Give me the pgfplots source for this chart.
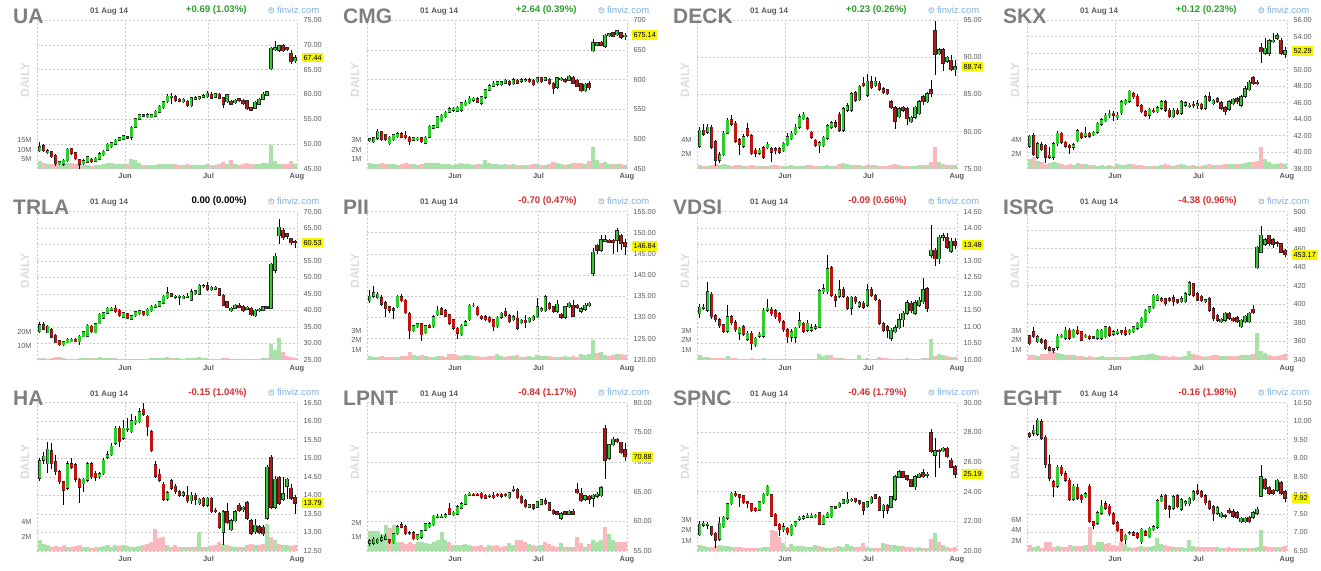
\documentclass[border=0pt]{standalone}
\usepackage{pgfplots}
\pgfplotsset{compat=1.18}
\usepackage{pgfplotstable}
\usepackage{fontspec}
\setmainfont{Liberation Sans}
\definecolor{upg}{HTML}{2ECC2E}
\definecolor{dnr}{HTML}{C01414}
\definecolor{volg}{HTML}{A9E2A9}
\definecolor{volr}{HTML}{F8B8BC}
\definecolor{gridc}{HTML}{C8C8C8}
\definecolor{tickc}{HTML}{5A5A5A}
\definecolor{titc}{HTML}{7F7F7F}
\definecolor{datec}{HTML}{5A5A5A}
\definecolor{chgup}{HTML}{2E9E2E}
\definecolor{chgdn}{HTML}{D22F2F}
\definecolor{chgnil}{HTML}{000000}
\definecolor{finc}{HTML}{7FB0DE}
\definecolor{dailyc}{HTML}{DCDCDC}
\definecolor{lastyel}{HTML}{F5F500}
\newcommand\fTitle{\fontsize{21}{21}\selectfont\bfseries}
\newcommand\fDate{\fontsize{8}{8}\selectfont\bfseries}
\newcommand\fChg{\fontsize{9.6}{10}\selectfont\bfseries}
\newcommand\fFin{\fontsize{9.5}{10}\selectfont}
\newcommand\fDaily{\fontsize{12}{12}\selectfont\bfseries}
\newcommand\fTick{\fontsize{7.3}{8}\selectfont}
\newcommand\fMonth{\fontsize{7.5}{8}\selectfont\bfseries}

\pgfplotsset{
  fbase/.style={scale only axis, width=259.7pt, height=148.3pt, anchor=south west,
    xmin=-0.6, xmax=64.5, axis line style={draw=none},
    major tick length=0pt, minor tick length=0pt,
    /pgf/number format/assume math mode=true},
  seg/.style={draw=#1, no markers, unbounded coords=jump, forget plot},
}
\pgfkeys{/panel/.is family}
\pgfkeys{/panel,
  col/.store in=\pcol, row/.store in=\prow, name/.store in=\pname,
  chg/.store in=\pchg, chgcol/.store in=\pchgcol,
  ymin/.store in=\pymin, ymax/.store in=\pymax, ystep/.store in=\pystep,
  prec/.store in=\pprec, last/.store in=\plast,
  vmax/.store in=\pvmax, vticks/.store in=\pvticks}

% build one path per series from the OHLCV table
\newcommand\buildsegs[2]{%
  \gdef\gv{}\gdef\rv{}\gdef\wk{}\gdef\bb{}\gdef\bg{}\gdef\br{}%
  \pgfplotstablegetrowsof{#1}%
  \pgfmathtruncatemacro\lastrow{\pgfplotsretval-1}%
  \foreach \i in {0,...,\lastrow}{%
    \pgfplotstablegetelem{\i}{o}\of#1\let\vO\pgfplotsretval
    \pgfplotstablegetelem{\i}{h}\of#1\let\vH\pgfplotsretval
    \pgfplotstablegetelem{\i}{l}\of#1\let\vL\pgfplotsretval
    \pgfplotstablegetelem{\i}{c}\of#1\let\vC\pgfplotsretval
    \pgfplotstablegetelem{\i}{v}\of#1\let\vV\pgfplotsretval
    \pgfmathsetmacro\vlo{min(\vO,\vC)}%
    \pgfmathsetmacro\vhi{max(\vO,\vC)}%
    \pgfmathsetmacro\vblo{\vlo-#2}%
    \pgfmathsetmacro\vbhi{\vhi+#2}%
    \pgfmathtruncatemacro\vup{\vC>=\vO}%
    \xdef\wk{\wk(\i,\vL)(\i,\vH)(\i,nan)}%
    \xdef\bb{\bb(\i,\vblo)(\i,\vbhi)(\i,nan)}%
    \ifnum\vup=1
      \xdef\bg{\bg(\i,\vlo)(\i,\vhi)(\i,nan)}%
      \xdef\gv{\gv(\i,0)(\i,\vV)(\i,nan)}%
    \else
      \xdef\br{\br(\i,\vlo)(\i,\vhi)(\i,nan)}%
      \xdef\rv{\rv(\i,0)(\i,\vV)(\i,nan)}%
    \fi
  }%
}
\newcommand\segplot[2]{\expandafter\segplotX\expandafter{#2}{#1}}
\newcommand\segplotX[2]{\addplot[#2] coordinates {#1};}

\newcommand\Panel[2]{%
  \pgfkeys{/panel/.cd,#1}%
  \pgfmathsetmacro\PX{330*\pcol}%
  \pgfmathsetmacro\PY{570-191.2*\prow}%
  \pgfmathsetmacro\AX{\PX+37.3}%
  \pgfmathsetmacro\AY{\PY-168.6}%
  \pgfmathsetmacro\pdelta{(\pymax-\pymin)/148.3*0.5}%
  \buildsegs{#2}{\pdelta}%
  \begin{axis}[fbase, at={(\AX pt,\AY pt)},
     ymin=0, ymax=\pvmax, xtick=\empty, ytick=\pvticks, ytick pos=left,
     yticklabel={\pgfmathprintnumber{\tick}M},
     yticklabel style={font=\fTick, text=tickc, anchor=east, inner sep=1pt, xshift=-4.6pt}]
    \segplot{seg=volg, line width=4.0pt}{\gv}
    \segplot{seg=volr, line width=4.0pt}{\rv}
  \end{axis}
  \begin{axis}[fbase, at={(\AX pt,\AY pt)},
     ymin=\pymin, ymax=\pymax, ytick distance=\pystep, ytick pos=right,
     yticklabel pos=right,
     yticklabel={\pgfmathprintnumber[fixed,fixed zerofill,precision=\pprec]{\tick}},
     yticklabel style={font=\fTick, text=tickc, anchor=west, inner xsep=1.5pt, inner ysep=2.2pt, xshift=4.8pt},
     xtick={-0.6,21.4,42.3,64.5}, xticklabels={,Jun,Jul,Aug},
     xticklabel style={font=\fMonth, text=tickc, anchor=base, yshift=-10.4pt},
     grid=major, major grid style={gridc, line width=0.6pt, dash pattern=on 2pt off 2pt},
     extra y ticks=\plast, extra y tick labels={\plast},
     extra y tick style={grid=none, yticklabel style={fill=lastyel, text=black}}]
    \segplot{seg=black, line width=0.6pt}{\wk}
    \segplot{seg=black!85, line width=3.4pt}{\bb}
    \segplot{seg=upg, line width=2.3pt}{\bg}
    \segplot{seg=dnr, line width=2.3pt}{\br}
  \end{axis}
  \begin{scope}[shift={(\PX pt,\PY pt)}, x=1pt, y=1pt]
    \node[anchor=base west, font=\fTitle, text=titc, inner sep=0] at (13,-23.3) {\pname};
    \node[anchor=base west, font=\fDate, text=datec, inner sep=0] at (90,-13.8) {01 Aug 14};
    \node[anchor=base east, font=\fChg, text=\pchgcol, inner sep=0] at (246.7,-12.8) {\pchg};
    \draw[finc, line width=0.6pt] (271.3,-10.2) circle (2.6);
    \node[font=\fontsize{4.5}{5}\selectfont\bfseries, text=finc, inner sep=0] at (271.3,-10.2) {s};
    \node[anchor=base west, font=\fFin, text=finc, inner sep=0] at (276.8,-13.6) {finviz.com};
    \node[rotate=90, font=\fDaily, text=dailyc, inner sep=0] at (25,-80) {DAILY};
  \end{scope}
}

\pgfplotstableread{
o h l c v
48.6 50.3 48.4 49.4 4.2
49.6 49.9 48.4 48.6 2.8
48.2 48.9 48.0 48.6 2.5
48.4 48.6 47.2 47.4 2.3
47.7 47.9 45.6 46.0 3.0
46.0 46.6 45.8 46.4 2.6
45.9 47.0 45.6 46.7 2.4
46.6 49.1 46.4 48.9 3.0
49.0 49.1 47.8 48.1 2.8
48.2 48.4 46.7 47.0 2.4
46.8 47.0 45.0 45.9 2.6
46.0 46.9 45.7 46.6 2.0
46.3 47.6 46.1 47.4 1.8
46.9 47.1 46.2 46.4 1.6
46.5 47.3 46.3 47.1 1.8
46.9 48.3 46.8 48.0 2.0
47.8 48.7 47.6 48.5 2.6
48.7 50.1 48.5 49.9 3.2
49.4 50.4 49.2 50.2 2.8
49.9 50.9 49.7 50.7 2.4
50.7 51.4 50.5 51.2 2.2
50.9 51.8 50.7 51.6 2.6
51.4 51.6 50.9 51.1 2.2
51.3 53.6 50.8 53.4 5.0
53.4 55.3 53.2 55.1 4.6
55.0 56.1 54.8 55.9 3.0
55.9 56.1 55.4 55.6 2.0
55.5 56.3 55.3 55.9 1.8
55.3 56.0 55.2 55.9 1.8
55.6 56.8 55.5 56.6 2.0
56.4 57.8 56.2 57.6 2.2
57.3 58.7 57.1 58.5 2.4
58.5 60.0 58.2 59.6 2.6
59.4 60.3 58.0 59.6 2.4
59.5 59.8 58.5 58.7 2.2
59.0 59.2 58.4 58.6 2.0
58.5 59.3 58.3 59.0 2.0
58.6 58.8 57.5 57.7 2.2
57.7 59.5 57.5 59.3 2.0
59.0 59.6 58.8 59.3 1.8
59.1 59.7 58.9 59.5 1.9
59.4 60.0 59.2 59.7 2.0
59.5 60.6 59.3 60.2 2.4
60.0 60.4 59.0 59.2 2.0
59.4 60.3 59.2 60.1 2.1
60.0 60.3 59.0 59.2 2.2
59.3 59.5 57.2 58.0 3.6
58.5 60.1 58.3 59.9 2.6
58.6 58.8 57.8 58.0 4.4
58.3 59.0 58.1 58.8 2.4
59.1 59.3 58.5 58.7 2.0
58.8 59.0 57.9 58.1 2.6
58.7 58.9 56.9 57.1 2.8
57.3 57.5 56.6 56.8 2.4
57.2 58.6 57.0 58.4 2.2
58.0 59.2 57.8 59.0 2.6
59.0 60.4 58.8 60.0 2.8
59.8 60.7 59.6 60.5 3.2
65.2 69.6 65.0 69.3 12.5
69.0 70.8 68.8 69.4 4.0
68.9 70.1 68.6 69.9 2.6
70.0 70.2 68.5 68.8 2.4
69.4 69.6 68.7 69.0 2.2
68.3 68.9 66.2 66.6 3.8
66.8 67.9 66.4 67.44 2.6
}\dUA

\pgfplotstableread{
o h l c v
497 502 494 500 0.55
495 504 493 502 0.45
501 517 499 513 0.5
512 514 497 499 0.6
507 509 497 499 0.5
492 505 490 503 0.45
499 509 497 507 0.5
504 511 502 509 0.4
509 511 501 503 0.45
506 513 500 502 0.55
503 505 490 495 0.5
498 504 496 502 0.45
499 503 497 501 0.4
502 504 493 495 0.5
493 505 491 503 0.55
503 523 501 521 0.6
518 524 516 522 0.55
520 539 518 537 0.6
531 542 528 540 0.5
537 547 535 545 0.45
545 553 543 551 0.45
548 554 546 552 0.4
547 555 545 553 0.5
548 563 546 561 0.55
558 565 556 562 0.45
561 572 559 569 0.5
565 571 563 569 0.4
568 570 560 562 0.45
560 573 558 571 0.5
570 585 568 583 0.9
582 592 580 590 0.6
589 597 587 594 0.5
592 598 590 596 0.45
591 598 589 596 0.4
594 601 592 599 0.45
597 599 590 592 0.4
593 603 591 600 0.45
599 601 592 594 0.4
597 602 595 600 0.35
598 602 596 600 0.35
600 602 594 596 0.4
599 601 589 591 0.45
596 605 594 603 0.45
603 605 594 596 0.4
599 605 597 603 0.35
601 603 591 593 0.45
594 596 576 585 0.65
587 605 585 603 0.6
600 604 598 602 0.45
600 602 594 596 0.4
599 608 597 606 0.45
604 606 592 594 0.55
599 601 587 589 0.6
593 595 579 581 0.55
581 594 579 592 0.5
593 597 582 586 0.8
649 668 647 662 2.3
658 664 656 662 0.9
663 665 656 658 0.6
656 677 654 675 0.7
674 679 672 677 0.5
679 681 671 673 0.45
676 683 674 682 0.5
679 681 669 671 0.45
672 678 667 675.14 0.4
}\dCMG

\pgfplotstableread{
o h l c v
78.0 80.6 77.8 80.2 0.5
80.2 81.0 79.4 79.6 0.4
79.9 81.0 79.7 80.6 0.4
80.6 80.9 77.7 77.9 0.5
78.6 78.8 75.4 76.1 0.6
76.1 77.3 75.8 76.9 0.55
76.9 80.1 76.7 79.8 0.7
79.8 81.8 79.6 81.5 0.5
81.6 82.2 80.8 81.0 0.4
81.1 81.4 78.5 78.7 0.45
78.9 79.1 76.8 78.3 0.5
78.0 79.6 77.8 79.3 0.4
80.4 81.1 79.3 79.5 0.35
79.4 79.6 76.8 77.0 0.45
77.5 77.8 76.5 77.1 0.35
77.1 77.8 76.9 77.5 0.3
77.8 78.0 76.3 76.5 0.4
77.8 78.6 77.6 78.3 0.4
77.7 77.9 75.9 77.2 0.45
77.7 77.9 77.0 77.4 0.5
77.7 77.9 77.0 77.2 0.4
77.4 78.6 77.2 78.4 0.35
78.2 79.8 78.0 79.3 0.4
79.0 80.1 78.8 79.8 0.45
79.7 81.0 79.5 80.6 0.4
80.6 82.3 80.4 82.0 0.4
81.7 82.7 81.5 82.3 0.35
81.7 81.9 80.2 80.4 0.45
79.9 80.1 79.0 79.2 0.5
78.8 79.0 77.9 78.1 0.4
78.1 78.7 77.1 78.5 0.35
78.1 79.4 77.9 79.2 0.4
79.1 81.0 78.9 80.8 0.45
80.6 81.4 80.4 81.2 0.35
81.2 81.5 80.5 80.7 0.4
82.3 82.6 80.0 80.2 0.7
80.2 83.3 80.0 83.1 0.75
82.9 83.8 82.7 83.5 0.6
82.9 85.3 82.7 85.1 0.5
85.2 85.4 84.0 84.2 0.45
84.3 86.3 84.1 86.1 0.55
86.5 87.3 86.0 86.2 0.4
84.9 87.7 84.7 86.8 0.55
86.7 87.5 85.7 85.9 0.5
86.2 87.4 86.0 86.8 0.45
86.5 86.8 85.5 85.7 0.35
85.8 86.0 85.1 85.3 0.3
85.6 85.8 84.9 85.1 0.35
84.0 84.2 83.0 83.2 0.5
83.2 83.4 80.4 81.4 0.6
82.0 83.3 81.8 83.1 0.45
83.3 83.5 82.7 82.9 0.4
83.1 83.3 80.9 81.7 0.4
81.3 82.1 81.1 81.9 0.35
81.9 83.5 81.7 83.3 0.4
82.4 84.3 82.2 84.0 0.45
84.7 84.9 83.6 84.0 0.5
84.0 85.3 83.8 85.1 0.5
85.6 87.0 84.6 85.1 0.9
93.6 94.9 87.6 90.4 3.1
90.5 91.2 90.3 91.0 0.9
91.0 91.2 88.2 89.2 0.6
89.5 90.2 89.3 90.0 0.45
89.6 90.3 88.1 88.3 0.5
88.3 89.7 87.5 88.74 0.45
}\dDECK

\pgfplotstableread{
o h l c v
40.7 42.1 40.5 41.9 1.3
42.0 42.3 39.5 39.7 1.6
39.4 41.2 39.2 41.0 1.0
40.9 41.2 40.1 40.3 0.9
40.8 41.0 38.7 39.4 0.7
39.4 40.6 39.2 39.6 0.8
39.4 41.2 39.1 41.0 0.9
41.0 42.6 40.8 42.3 0.8
42.3 42.5 41.0 41.2 0.6
41.2 41.4 40.5 40.7 0.5
40.8 41.0 39.8 40.6 0.6
40.6 41.1 40.2 40.9 0.5
41.4 42.8 41.2 42.6 0.8
42.3 42.5 41.6 41.8 0.7
41.9 43.0 41.7 42.3 0.6
42.3 42.5 41.7 41.9 0.5
42.1 42.6 41.9 42.4 0.5
42.4 43.7 42.2 43.5 0.4
43.4 44.1 43.2 43.9 0.5
43.8 44.7 43.6 44.5 0.4
44.4 45.1 44.2 44.7 0.5
44.7 45.0 43.8 44.5 0.4
44.2 44.9 43.9 44.5 0.6
44.8 46.3 44.5 46.1 0.5
45.9 46.5 45.7 46.3 0.5
46.2 47.6 46.0 47.4 0.7
47.1 47.3 46.5 46.7 0.6
46.8 47.0 45.5 45.7 0.5
45.6 45.8 44.7 44.9 0.5
44.9 45.1 44.3 44.5 0.4
44.5 45.4 44.0 45.2 0.4
45.1 45.3 44.7 44.9 0.4
44.9 45.6 44.7 45.4 0.4
45.3 46.3 45.1 46.1 0.5
46.1 46.3 44.9 45.1 0.6
45.1 45.3 44.1 44.3 0.45
44.3 45.3 44.1 45.1 0.4
45.1 45.3 44.5 44.7 0.45
44.7 46.3 44.5 46.1 0.6
45.7 46.2 45.5 46.0 0.5
45.5 46.0 45.3 45.7 0.4
45.8 46.2 45.4 45.6 0.45
45.6 46.3 45.2 45.9 0.4
45.8 46.0 45.1 45.3 0.4
45.3 46.9 45.1 46.7 0.5
46.7 47.3 46.1 46.3 0.6
45.9 46.5 45.7 46.3 0.5
46.5 46.7 46.0 46.2 0.5
46.0 46.2 45.1 45.3 0.55
45.4 45.6 44.5 44.9 0.6
45.2 46.3 45.0 46.1 0.6
45.9 46.6 45.7 46.4 0.7
46.5 46.7 45.9 46.1 0.6
45.7 46.9 45.5 46.7 0.7
46.8 48.0 46.6 47.7 0.8
47.6 48.8 47.4 48.5 0.9
49.0 49.2 48.1 48.3 0.9
48.5 48.7 48.1 48.3 1.0
52.7 53.2 50.8 52.2 3.1
52.0 53.8 51.8 52.6 1.3
52.0 53.7 51.7 53.5 0.9
53.4 54.4 53.2 53.6 0.7
53.8 54.5 53.6 54.1 0.6
53.6 53.8 51.8 52.0 0.8
51.9 52.7 51.4 52.29 0.6
}\dSKX

\pgfplotstableread{
o h l c v
33.5 36.5 33.2 35.6 1.5
35.6 36.6 34.0 34.3 1.2
33.2 35.5 33.0 35.2 0.8
34.3 34.6 31.6 31.8 1.2
32.5 32.8 30.0 30.2 2.0
30.8 31.1 29.3 29.5 1.8
29.5 30.8 29.3 30.5 1.0
30.2 31.5 30.0 31.2 0.8
30.5 31.6 30.3 31.2 0.7
31.2 31.5 30.3 30.5 0.6
30.5 32.5 29.5 32.2 1.0
32.0 33.8 31.8 33.5 1.2
32.2 35.8 32.0 35.5 1.5
35.2 35.5 33.2 33.5 1.2
33.2 36.3 33.0 36.0 1.6
36.0 39.3 35.8 38.8 1.8
37.6 39.6 37.3 39.3 1.5
39.1 40.9 38.8 40.6 1.4
40.1 40.9 39.9 40.6 1.2
40.6 41.5 39.3 39.6 1.0
40.1 40.4 38.0 38.3 0.9
37.9 39.6 37.6 39.3 0.8
38.9 39.2 37.3 37.6 0.7
37.3 38.6 37.0 38.3 0.6
38.3 39.9 38.0 39.6 0.8
38.9 40.2 38.6 39.9 0.9
39.6 39.9 38.3 38.6 0.7
38.6 40.6 38.3 40.3 0.9
39.9 41.6 39.6 41.3 1.0
40.9 41.9 40.6 41.6 1.0
41.3 42.9 41.0 42.6 1.2
42.1 44.6 41.8 44.3 1.4
43.9 47.0 43.6 45.3 2.0
45.1 45.4 44.0 44.3 1.2
44.0 44.6 43.5 44.3 1.0
44.0 44.6 41.5 44.3 1.2
43.6 44.6 43.3 44.3 0.9
44.0 45.4 43.7 44.3 1.0
43.1 46.5 42.8 45.6 1.5
45.1 46.2 44.8 45.9 1.2
44.9 47.9 44.6 47.6 2.0
47.2 48.0 46.9 47.4 1.2
47.4 48.5 45.9 46.2 1.0
46.2 47.3 45.9 47.0 0.8
46.4 47.5 46.1 47.0 0.7
46.6 46.9 44.3 44.6 0.9
44.6 44.9 41.3 41.6 1.2
42.6 42.9 40.6 40.9 1.0
39.9 40.9 39.6 40.6 0.7
40.6 41.9 40.3 41.6 0.7
41.6 42.2 40.6 40.9 0.6
41.3 41.6 39.6 39.9 0.8
40.3 41.2 40.0 40.9 0.7
40.6 40.9 38.3 38.6 0.8
38.3 40.4 38.0 40.1 0.8
39.9 40.6 39.6 40.3 0.7
40.1 41.4 39.9 41.1 1.0
41.1 41.4 40.3 40.6 1.2
40.6 54.5 40.3 54.0 11.5
52.2 57.5 51.4 56.4 7.0
62.7 67.6 60.2 65.2 15.5
64.3 65.0 61.5 62.0 5.5
63.3 63.6 61.8 62.5 3.0
61.7 62.0 59.9 60.53 2.0
60.8 61.5 58.8 60.53 1.5
}\dTRLA

\pgfplotstableread{
o h l c v
133.9 136.5 133.5 135.0 0.35
135.0 137.3 134.7 135.8 0.3
134.7 136.0 134.3 135.5 0.3
134.7 135.2 132.8 133.1 0.35
133.5 133.8 130.0 132.1 0.3
132.5 132.8 131.0 131.7 0.25
132.1 132.4 129.7 131.7 0.3
132.5 135.3 132.2 135.0 0.3
134.9 135.5 133.6 133.9 0.35
134.1 134.4 130.8 131.1 0.4
131.0 131.3 125.0 126.9 0.8
126.9 128.3 126.6 128.0 0.45
127.8 128.8 127.5 128.5 0.35
128.5 128.8 124.5 125.9 0.5
126.4 128.3 126.1 128.0 0.35
128.2 128.5 127.4 127.7 0.3
127.8 130.5 127.5 130.2 0.3
130.6 132.7 130.3 131.7 0.4
132.1 132.4 130.5 130.8 0.35
131.6 131.9 130.0 130.3 0.3
130.6 130.9 128.3 128.6 0.6
129.4 129.7 127.1 127.4 0.6
127.4 127.7 125.0 126.3 0.5
125.9 128.5 125.6 128.2 0.4
128.2 129.3 127.9 129.0 0.45
129.5 133.2 129.2 132.9 0.5
132.7 133.5 132.4 132.9 0.35
132.4 132.7 130.3 130.6 0.4
130.3 130.6 129.5 129.8 0.3
130.2 130.5 129.1 129.4 0.3
130.0 130.3 128.7 129.0 0.35
129.4 129.7 126.8 127.8 0.4
127.8 130.3 127.5 130.0 0.55
130.0 131.3 129.7 131.0 0.35
131.4 132.2 130.1 130.4 0.3
130.4 130.7 128.7 129.0 0.4
129.4 130.5 129.1 130.2 0.35
129.8 131.5 127.1 127.4 0.45
128.8 129.6 128.5 129.3 0.3
129.3 130.5 127.5 128.8 0.3
129.0 130.1 128.7 129.8 0.35
129.4 130.6 129.1 130.3 0.3
130.2 134.5 129.9 132.5 0.45
131.6 132.4 131.3 132.1 0.35
131.6 135.2 131.3 134.9 0.4
133.3 133.6 131.8 132.1 0.35
132.5 132.8 131.1 131.4 0.3
131.4 134.0 131.1 133.1 0.3
130.8 131.1 129.7 130.0 0.3
130.0 132.8 129.7 132.5 0.35
132.5 133.6 132.2 133.3 0.3
132.9 134.0 130.0 130.3 0.35
132.9 133.2 132.1 132.4 0.3
131.4 132.4 131.1 132.1 0.55
131.9 133.5 131.6 132.9 0.5
132.7 133.6 132.4 133.3 0.55
140.4 146.5 139.8 145.4 2.0
147.0 147.3 145.0 145.8 0.7
145.8 149.5 145.5 148.3 0.8
148.0 149.5 147.7 148.3 0.5
148.2 148.5 147.5 147.8 0.4
148.2 148.5 145.0 147.6 0.45
148.2 151.0 145.5 150.5 0.6
149.4 149.7 146.0 147.4 0.55
147.8 148.5 144.8 146.84 0.45
}\dPII

\pgfplotstableread{
o h l c v
11.39 11.70 11.26 11.59 0.5
11.56 11.70 11.50 11.59 0.3
11.51 12.35 11.45 12.06 0.25
11.99 12.05 11.25 11.31 0.2
11.33 11.40 11.15 11.21 0.15
11.21 11.27 10.98 11.03 0.15
11.06 11.10 10.80 10.86 0.2
10.86 11.65 10.80 11.31 0.4
11.31 11.37 11.07 11.13 0.2
11.13 11.20 10.85 10.91 0.15
10.81 11.00 10.60 10.95 0.12
11.00 11.05 10.72 10.78 0.12
10.62 10.86 10.56 10.80 0.1
10.80 10.86 10.30 10.48 0.15
10.45 10.70 10.40 10.65 0.12
10.72 10.85 10.66 10.78 0.1
10.72 11.56 10.66 11.51 0.15
11.51 11.83 11.45 11.56 0.12
11.53 11.60 11.33 11.39 0.12
11.49 11.55 11.25 11.31 0.1
11.39 11.45 11.13 11.19 0.1
11.16 11.22 10.85 10.91 0.12
10.91 10.96 10.50 10.70 0.1
10.68 10.92 10.55 10.85 0.1
10.68 11.00 10.50 10.95 0.1
11.03 11.45 10.97 11.19 0.12
11.11 11.16 10.80 10.86 0.1
10.90 11.20 10.84 11.11 0.1
10.90 11.10 10.85 10.98 0.08
10.95 11.10 10.90 11.01 0.1
10.99 12.15 10.95 12.09 0.55
12.06 12.30 12.00 12.16 0.4
12.06 13.17 12.00 12.77 0.45
12.80 12.85 11.90 11.96 0.5
11.93 12.00 11.60 11.81 0.2
11.93 12.42 11.87 12.13 0.15
12.13 12.20 11.87 11.93 0.15
11.90 11.95 11.50 11.56 0.12
11.56 11.95 11.35 11.90 0.1
11.90 11.95 11.70 11.76 0.1
11.63 11.78 11.58 11.73 0.5
11.71 11.77 11.53 11.59 0.12
11.66 12.30 11.60 12.13 0.15
12.13 12.20 11.90 11.96 0.12
11.96 12.00 11.77 11.83 0.1
11.81 11.86 11.05 11.11 0.3
11.11 11.16 10.85 10.90 0.2
11.00 11.05 10.66 10.90 0.15
10.65 10.95 10.58 10.90 0.12
10.85 11.05 10.80 10.98 0.1
10.98 11.40 10.92 11.21 0.1
11.21 11.47 11.00 11.41 0.12
11.41 11.80 11.35 11.73 0.15
11.71 11.77 11.43 11.49 0.1
11.41 11.80 11.35 11.73 0.12
11.66 11.92 11.60 11.81 0.1
11.76 12.47 11.70 12.13 0.15
12.16 12.20 11.46 11.56 0.2
13.17 14.10 13.10 13.32 2.1
13.32 13.38 12.85 13.07 0.35
13.07 13.78 12.90 13.72 0.55
13.72 13.85 13.60 13.77 0.45
13.72 13.85 13.35 13.42 0.35
13.30 13.70 13.25 13.60 0.3
13.60 13.70 13.35 13.48 0.25
}\dVDSI

\pgfplotstableread{
o h l c v
366 367 356 357.5 0.5
370 375 363 365 0.45
359.5 367 358 365 0.4
362 364 357 358.5 0.55
360.5 362 351 352.5 0.6
353.5 355 349 350.5 0.9
352 353 347 350.5 0.8
353.5 368 351 365.6 0.7
364.8 368 363 366.7 0.6
363 375 361 372 0.5
372 374 361 363 0.5
365 373 363 372 0.45
372 376 367 368.5 0.4
370 371.5 360 361.3 0.35
365 368 363 366.7 0.3
365.6 367 361 363 0.35
365 366 362 363 0.3
363 373.5 361 372 0.3
363 373.5 361 372 0.35
365 377 364 375.6 0.3
375 376 365 366.7 0.3
367.8 372 366 370.3 0.3
368.5 373 367 371 0.25
371.3 372.5 367 369 0.3
372 375 366 367.8 0.3
369 373.5 367 372 0.3
370.3 377 369 375.6 0.35
373.8 381 372 379.2 0.4
375.6 386 374 384.6 0.45
381 395 380 393.5 0.5
391.8 398.5 390 397 0.55
396.4 411 395 409.7 0.6
404.3 411 403 409.7 0.5
406 408 402 403.5 0.4
406 407 398 400.7 0.35
406 408 402 403.5 0.3
407.2 410 398 402.5 0.35
405 406 400 401.4 0.3
402.5 409 401 406 0.3
402.5 413 401 411.5 0.4
410.8 425.3 409 422.9 0.9
422.2 423 408 409.7 0.6
411.5 413 403 404.3 0.45
408.6 410 402 403.6 0.4
402.5 406 401 405 0.3
406 407.5 392 393.5 0.4
395.3 396.5 382 384.6 0.5
388.2 389.5 381 382.8 0.45
381 385 380 383.5 0.35
382.8 391.5 381 390 0.35
390 391.5 383 384.6 0.4
384.6 386 381 382 0.35
385.6 387 380 381 0.4
375.6 384 374 382.8 0.5
381 388.5 379.5 387 0.45
381 391.5 379.5 390 0.5
394.3 399 389 390.7 0.6
439.4 463 438 461.6 2.8
456.3 484.2 455 474.2 0.9
464.5 471 463 469.5 0.7
474.2 475 463 466 0.5
469.5 471 461 464.5 0.4
467 468 462 465.6 0.35
465.2 466.5 455 456.3 0.5
458 460 451 453.17 0.55
}\dISRG

\pgfplotstableread{
o h l c v
14.46 15.00 14.38 14.94 1.5
14.95 15.18 14.85 15.06 1.0
14.86 15.45 14.60 15.24 0.8
15.21 15.40 14.70 14.86 0.6
14.91 15.10 14.55 14.64 0.7
14.64 14.68 14.30 14.37 0.6
14.37 14.40 13.75 14.14 0.8
14.19 14.92 14.15 14.86 0.6
14.85 15.00 14.70 14.76 0.5
14.82 14.88 14.35 14.43 0.7
14.43 14.48 13.80 14.22 0.8
14.32 14.48 14.10 14.43 0.6
14.41 14.90 14.35 14.85 0.5
14.85 14.90 14.45 14.50 0.4
14.60 14.65 14.40 14.49 0.5
14.50 14.62 14.45 14.58 0.6
14.58 15.00 14.55 14.95 0.7
15.03 15.20 14.98 15.09 0.8
15.09 15.40 15.05 15.33 0.6
15.40 15.86 15.36 15.81 0.8
15.81 15.86 15.30 15.45 0.7
15.54 16.02 15.50 15.81 0.9
15.78 16.10 15.70 15.81 0.7
15.72 16.20 15.68 16.01 0.6
15.96 16.15 15.90 16.03 0.5
15.99 16.35 15.95 16.26 0.7
16.32 16.48 16.15 16.19 0.8
16.14 16.18 15.60 15.85 1.0
15.72 15.77 15.16 15.21 1.3
14.82 14.93 14.47 14.52 3.1
14.57 14.70 14.35 14.41 1.8
14.30 14.35 13.85 13.89 2.0
13.89 14.12 13.85 14.07 0.8
14.40 14.45 14.15 14.19 0.6
14.25 14.30 14.05 14.10 0.8
14.10 14.15 13.96 14.01 0.6
14.01 14.12 13.96 14.07 0.5
14.01 14.25 13.80 13.86 0.6
13.86 14.08 13.78 14.01 0.5
14.01 14.06 13.74 13.89 0.6
13.77 13.92 13.73 13.89 2.7
13.92 13.97 13.70 13.74 0.6
13.74 13.97 13.70 13.92 0.5
13.92 13.97 13.52 13.56 0.7
13.60 13.65 13.52 13.56 0.8
13.52 13.56 13.10 13.14 1.3
13.00 13.60 12.67 13.56 1.0
13.56 13.80 13.22 13.26 0.8
13.07 13.37 13.03 13.32 0.7
13.32 13.60 13.28 13.56 0.6
13.74 13.80 13.55 13.59 0.6
13.61 13.72 13.56 13.68 0.5
13.80 13.85 13.33 13.38 0.9
13.32 13.37 12.93 12.98 1.0
13.02 13.36 12.97 13.20 0.8
13.16 13.20 12.95 13.00 0.9
13.14 13.20 12.90 12.96 1.0
13.38 14.81 13.33 14.76 3.8
15.03 15.08 13.64 13.68 1.9
13.68 14.53 13.64 14.43 1.5
14.49 14.53 13.75 13.79 1.0
13.89 14.50 13.85 14.05 0.9
14.25 14.47 13.90 14.43 0.8
14.19 14.30 13.88 13.92 0.7
13.94 14.00 13.50 13.79 0.8
}\dHA

\pgfplotstableread{
o h l c v
56.3 57.1 55.9 56.7 1.4
56.3 57.3 56.0 57.0 1.4
56.4 57.2 56.2 57.0 1.4
56.8 57.7 56.6 57.2 1.2
57.0 57.9 56.8 57.5 1.8
56.9 57.1 56.2 56.4 1.6
56.4 58.1 56.2 57.9 1.8
57.9 59.3 57.7 59.1 0.6
59.4 59.9 58.8 59.0 0.6
59.1 59.3 57.7 57.9 0.5
58.1 58.3 57.7 57.9 0.6
58.1 58.3 56.9 57.1 0.5
57.1 57.9 56.9 57.7 0.6
57.3 58.6 57.1 58.4 0.6
58.5 59.8 58.3 59.6 0.55
59.1 59.9 58.9 59.6 0.5
59.4 61.1 59.2 60.9 0.65
60.7 61.2 60.5 60.9 0.75
60.7 61.3 60.5 60.9 1.35
60.8 61.4 60.6 61.1 0.75
62.2 63.1 61.0 61.2 0.65
61.1 61.7 60.9 61.5 0.4
61.2 62.7 61.0 62.5 0.4
62.2 63.2 62.0 63.0 0.45
62.9 64.6 62.7 64.4 0.5
64.4 64.9 64.2 64.7 0.4
64.6 64.8 64.2 64.4 0.35
64.6 64.8 64.2 64.4 0.35
64.7 64.9 63.8 64.0 0.4
64.4 64.6 63.7 63.9 0.3
64.2 64.6 64.0 64.4 0.45
64.4 64.9 63.7 64.0 0.35
64.6 64.8 64.1 64.3 0.4
64.6 64.8 64.0 64.2 0.3
64.6 64.8 64.1 64.3 0.35
64.0 65.0 63.8 64.8 0.55
65.2 66.0 65.0 65.4 0.45
65.4 65.6 63.8 64.0 0.8
64.2 64.4 62.9 63.1 0.8
63.5 63.7 62.3 62.5 0.65
62.4 63.0 62.2 62.8 0.5
62.8 63.0 61.9 62.2 0.4
62.4 63.5 62.2 63.3 0.35
62.9 63.8 62.7 63.6 0.45
63.5 64.0 62.8 63.0 0.6
63.1 63.3 61.7 61.9 0.5
61.9 62.1 61.1 61.3 0.35
61.6 61.8 61.0 61.2 0.3
60.5 61.5 60.3 61.3 0.55
61.6 61.8 61.0 61.2 0.3
61.2 61.9 61.0 61.7 0.3
61.7 62.0 61.0 61.2 0.3
65.4 66.4 64.6 64.8 0.95
64.7 65.6 63.3 63.5 0.55
63.7 64.5 63.5 64.3 0.3
64.2 64.4 63.0 63.7 0.5
63.9 64.6 62.4 64.4 0.8
64.2 64.9 64.0 64.6 0.65
64.3 65.9 64.1 65.7 0.75
75.7 76.3 67.2 70.3 1.7
70.6 73.1 70.4 72.9 1.2
72.9 74.3 72.7 73.8 0.8
73.8 74.0 73.2 73.4 0.6
73.3 73.4 71.4 71.6 0.65
72.1 73.2 70.2 70.88 0.6
}\dLPNT

\pgfplotstableread{
o h l c v
21.08 22.00 21.00 21.82 0.55
21.75 22.05 21.65 21.87 0.45
21.75 21.95 21.50 21.82 0.4
21.64 21.70 21.00 21.08 0.4
21.19 21.25 20.20 20.74 0.45
20.79 22.30 20.70 21.87 0.55
21.64 22.35 21.58 22.27 0.5
22.20 23.25 22.10 23.17 0.45
23.17 24.00 23.10 23.89 0.4
23.89 24.05 23.65 23.71 0.35
23.78 23.85 23.00 23.62 0.4
23.71 23.78 23.20 23.26 0.3
23.33 23.40 22.90 23.17 0.25
23.17 23.22 22.65 22.72 0.3
22.88 22.95 22.65 22.72 0.25
22.76 23.40 22.70 23.33 0.3
23.26 23.90 23.20 23.84 0.35
23.78 24.45 23.72 24.38 0.4
23.78 23.85 22.30 22.36 2.0
22.49 22.55 21.70 21.75 1.9
21.82 21.90 21.00 21.42 1.4
21.42 21.90 21.25 21.64 0.8
21.53 21.60 21.10 21.24 0.4
21.08 21.82 21.00 21.75 0.7
21.69 22.05 21.60 21.98 0.5
22.13 22.35 22.00 22.27 0.45
22.20 22.45 22.10 22.31 0.5
22.27 22.55 22.20 22.42 0.35
22.27 22.55 22.20 22.42 0.4
22.31 22.50 22.20 22.42 0.6
22.58 22.65 21.78 21.82 0.5
21.82 22.42 21.78 22.36 0.35
22.27 22.60 22.20 22.54 0.3
22.31 23.05 22.25 22.99 0.3
22.99 23.05 22.80 22.88 0.35
22.99 23.28 22.90 23.21 0.5
23.21 23.50 23.15 23.44 0.4
23.26 23.98 23.20 23.48 0.7
23.39 23.55 23.30 23.48 0.45
23.55 23.60 23.25 23.33 0.35
23.39 23.45 23.10 23.17 0.4
23.26 23.30 22.40 22.76 0.8
22.99 23.40 22.90 23.33 0.4
23.26 23.70 23.20 23.62 0.3
23.78 23.85 23.48 23.55 0.25
23.62 23.70 22.70 22.76 0.3
22.76 23.15 22.20 23.10 0.8
23.10 23.15 22.50 22.76 0.7
22.94 23.72 22.88 23.66 0.6
23.48 25.10 23.40 25.01 0.6
24.97 25.45 24.90 25.35 0.5
25.35 25.40 24.90 24.97 0.45
25.06 25.12 24.75 24.83 0.4
24.83 24.88 24.30 24.38 0.35
24.33 25.10 24.10 25.01 0.3
24.97 25.25 24.90 25.19 0.35
25.28 25.50 24.95 25.01 0.3
25.10 25.30 24.95 25.19 0.3
27.98 28.20 26.60 26.70 1.2
26.47 27.60 25.00 26.76 1.7
26.80 26.90 25.60 26.70 0.9
26.76 27.00 26.70 26.92 0.6
26.92 27.00 26.30 26.36 0.4
26.13 26.30 25.58 25.64 0.3
25.73 25.80 24.95 25.19 0.35
}\dSPNC

\pgfplotstableread{
o h l c v
9.67 9.70 9.55 9.60 1.1
9.67 9.90 9.60 9.76 0.8
9.65 10.10 9.60 10.03 1.0
9.99 10.05 9.50 9.54 0.6
9.57 9.62 8.75 8.82 1.8
8.82 9.10 8.40 8.46 1.7
8.37 8.42 7.95 8.23 0.8
8.24 8.82 8.20 8.76 1.0
8.76 8.82 8.52 8.58 0.7
8.58 8.65 8.36 8.41 0.8
8.41 8.46 7.85 7.89 1.2
7.89 8.30 7.85 8.25 0.9
8.22 8.30 7.88 7.92 1.0
8.01 8.05 7.80 7.88 1.0
7.97 8.10 7.93 8.04 1.1
8.25 8.30 7.25 7.29 4.7
7.29 7.32 7.10 7.20 1.2
7.25 7.58 7.20 7.53 1.7
7.52 7.88 7.48 7.71 1.7
7.77 7.85 7.60 7.65 1.3
7.71 7.76 7.45 7.50 1.6
7.52 7.56 7.20 7.25 1.2
7.26 7.30 7.00 7.05 1.0
7.07 7.10 6.75 6.78 1.7
6.80 6.97 6.70 6.93 1.4
6.96 7.05 6.92 6.99 0.7
6.99 7.05 6.90 6.93 0.6
6.96 7.00 6.83 6.87 0.8
6.75 7.12 6.70 7.08 1.0
7.02 7.06 6.90 6.93 0.7
6.89 7.15 6.85 7.11 0.8
7.07 7.20 7.03 7.16 1.0
7.14 7.90 7.10 7.86 2.5
7.86 8.03 7.82 7.97 1.3
8.01 8.05 7.60 7.65 1.1
7.70 7.75 7.40 7.61 0.9
7.65 8.00 7.60 7.97 0.8
7.99 8.03 7.65 7.70 0.8
7.62 7.92 7.58 7.88 0.7
7.77 7.88 7.72 7.83 0.6
7.77 7.96 7.72 7.92 2.1
7.88 8.15 7.85 8.10 0.9
8.14 8.30 8.00 8.06 0.8
8.10 8.14 7.93 7.97 0.7
7.99 8.03 7.75 7.80 0.8
7.83 7.87 7.60 7.65 0.7
7.70 7.74 7.32 7.50 0.8
7.52 7.72 7.48 7.67 0.7
7.43 7.56 7.39 7.52 0.6
7.47 7.50 7.40 7.44 0.5
7.60 7.65 7.50 7.53 0.7
7.56 7.62 7.40 7.44 0.6
7.53 7.58 7.36 7.41 0.6
7.29 7.42 7.25 7.38 0.5
7.29 7.42 7.25 7.38 0.6
7.41 7.45 7.25 7.29 0.5
7.41 7.58 7.37 7.53 0.6
7.52 7.68 7.48 7.62 0.7
7.98 8.83 7.95 8.50 4.1
8.43 8.47 8.15 8.19 1.0
8.22 8.26 8.02 8.06 0.8
8.14 8.18 8.02 8.06 0.7
8.14 8.45 8.10 8.41 0.7
8.34 8.38 8.00 8.06 0.8
8.10 8.14 7.82 7.92 0.9
}\dEGHT

\begin{document}
\begin{tikzpicture}
\useasboundingbox (0,0) rectangle (1321pt,570pt);
\Panel{col=0,row=0,name=UA,chg={+0.69 (1.03\%)},chgcol=chgup,ymin=45,ymax=75,ystep=5,prec=2,last=67.44,vmax=78,vticks={5,10,15}}{\dUA}
\Panel{col=1,row=0,name=CMG,chg={+2.64 (0.39\%)},chgcol=chgup,ymin=450,ymax=700,ystep=50,prec=0,last=675.14,vmax=15.6,vticks={1,2,3}}{\dCMG}
\Panel{col=2,row=0,name=DECK,chg={+0.23 (0.26\%)},chgcol=chgup,ymin=75,ymax=95,ystep=5,prec=2,last=88.74,vmax=20.9,vticks={2,4}}{\dDECK}
\Panel{col=3,row=0,name=SKX,chg={+0.12 (0.23\%)},chgcol=chgup,ymin=38,ymax=56,ystep=2,prec=2,last=52.29,vmax=20.9,vticks={2,4}}{\dSKX}
\Panel{col=0,row=1,name=TRLA,chg={0.00 (0.00\%)},chgcol=chgnil,ymin=25,ymax=70,ystep=5,prec=2,last=60.53,vmax=107,vticks={10,20}}{\dTRLA}
\Panel{col=1,row=1,name=PII,chg={-0.70 (0.47\%)},chgcol=chgdn,ymin=120,ymax=155,ystep=5,prec=2,last=146.84,vmax=15.3,vticks={1,2,3}}{\dPII}
\Panel{col=2,row=1,name=VDSI,chg={-0.09 (0.66\%)},chgcol=chgdn,ymin=10,ymax=14.5,ystep=0.5,prec=2,last=13.48,vmax=15.3,vticks={1,2,3}}{\dVDSI}
\Panel{col=3,row=1,name=ISRG,chg={-4.38 (0.96\%)},chgcol=chgdn,ymin=340,ymax=500,ystep=20,prec=0,last=453.17,vmax=15.3,vticks={1,2,3}}{\dISRG}
\Panel{col=0,row=2,name=HA,chg={-0.15 (1.04\%)},chgcol=chgdn,ymin=12.5,ymax=16.5,ystep=0.5,prec=2,last=13.79,vmax=20.7,vticks={2,4}}{\dHA}
\Panel{col=1,row=2,name=LPNT,chg={-0.84 (1.17\%)},chgcol=chgdn,ymin=55,ymax=80,ystep=5,prec=2,last=70.88,vmax=10.4,vticks={1,2}}{\dLPNT}
\Panel{col=2,row=2,name=SPNC,chg={-0.46 (1.79\%)},chgcol=chgdn,ymin=20,ymax=30,ystep=2,prec=2,last=25.19,vmax=14.4,vticks={1,2,3}}{\dSPNC}
\Panel{col=3,row=2,name=EGHT,chg={-0.16 (1.98\%)},chgcol=chgdn,ymin=6.5,ymax=10.5,ystep=0.5,prec=2,last=7.92,vmax=28.8,vticks={2,4,6}}{\dEGHT}
\end{tikzpicture}
\end{document}
